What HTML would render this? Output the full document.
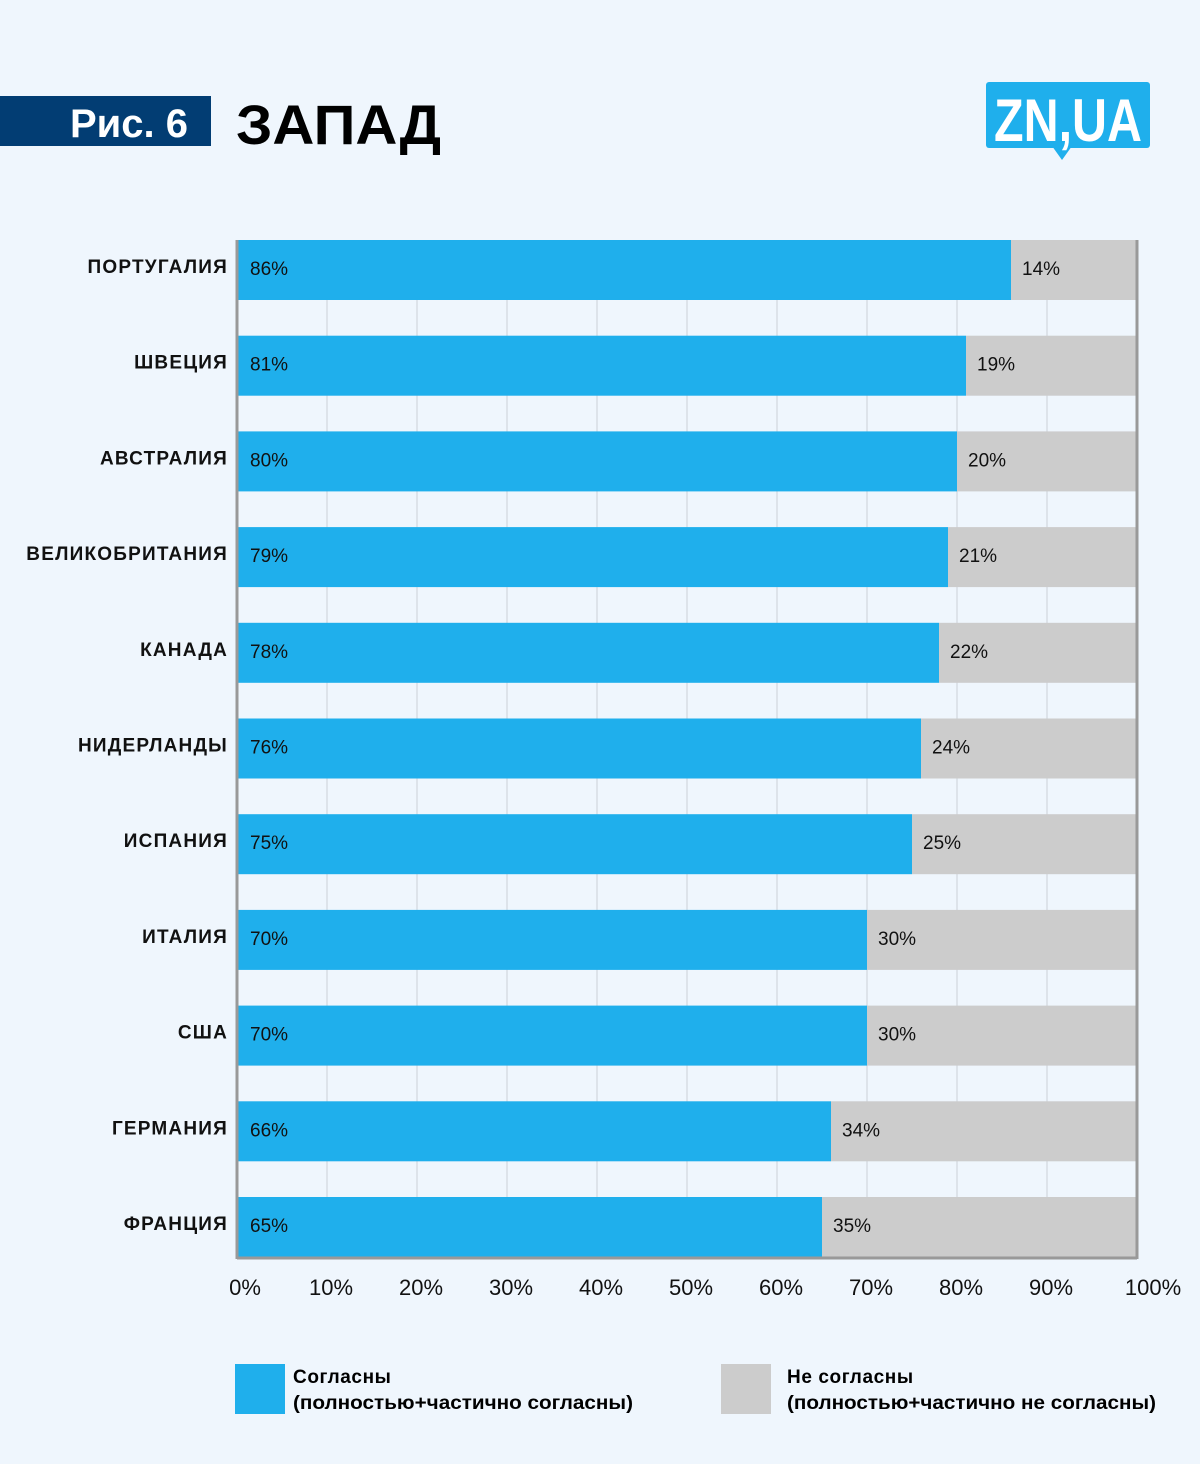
<!DOCTYPE html>
<html><head><meta charset="utf-8"><style>
body{margin:0;background:#eff6fd;}
svg{display:block;font-family:"Liberation Sans","DejaVu Sans",sans-serif;}
</style></head><body>
<svg id="chart" width="1200" height="1464" viewBox="0 0 1200 1464">
<rect x="0" y="0" width="1200" height="1464" fill="#eff6fd"/>
<rect x="0" y="96" width="211" height="50" fill="#023d73"/>
<text x="188" y="137" text-anchor="end" font-size="40" font-weight="bold" fill="#fff">Рис. 6</text>
<text x="236" y="144" font-size="56" font-weight="bold" fill="#000" textLength="205" lengthAdjust="spacingAndGlyphs">ЗАПАД</text>
<g>
<rect x="986" y="82" width="164" height="66" rx="3" fill="#1fafec"/>
<polygon points="1052,146 1072,146 1062,160" fill="#1fafec"/>
<text x="1068" y="141" text-anchor="middle" font-size="60" font-weight="bold" fill="#fff" textLength="148" lengthAdjust="spacingAndGlyphs">ZN,UA</text>
</g>
<g id="grid"></g>
<g id="bars"></g>
<g id="axis"></g>
<g>
<rect x="235" y="1364" width="50" height="50" fill="#1fafec"/>
<text x="293" y="1383" font-size="19" font-weight="bold" letter-spacing="0.6">Согласны</text>
<text x="293" y="1409" font-size="19" font-weight="bold" textLength="340" lengthAdjust="spacingAndGlyphs">(полностью+частично согласны)</text>
<rect x="721" y="1364" width="50" height="50" fill="#cccccc"/>
<text x="787" y="1383" font-size="19" font-weight="bold" letter-spacing="0.6">Не согласны</text>
<text x="787" y="1409" font-size="19" font-weight="bold" textLength="369" lengthAdjust="spacingAndGlyphs">(полностью+частично не согласны)</text>
</g>
</svg>
<script>
const categories = ["ПОРТУГАЛИЯ","ШВЕЦИЯ","АВСТРАЛИЯ","ВЕЛИКОБРИТАНИЯ","КАНАДА","НИДЕРЛАНДЫ","ИСПАНИЯ","ИТАЛИЯ","США","ГЕРМАНИЯ","ФРАНЦИЯ"];
const agree = [86,81,80,79,78,76,75,70,70,66,65];
const disagree = [14,19,20,21,22,24,25,30,30,34,35];
const agreeLabels = ["86%","81%","80%","79%","78%","76%","75%","70%","70%","66%","65%"];
const disagreeLabels = ["14%","19%","20%","21%","22%","24%","25%","30%","30%","34%","35%"];
const ticks = [0,10,20,30,40,50,60,70,80,90,100];
const tickLabels = ["0%","10%","20%","30%","40%","50%","60%","70%","80%","90%","100%"];

const NS="http://www.w3.org/2000/svg";
const x0=237,x1=1137,top0=240,bottom=1257,barH=60;
const step=(bottom-barH-top0)/(categories.length-1);
function xs(v){return x0+(x1-x0)*v/100;}
function yb(i){return top0+i*step;}
function mk(tag,attrs,parent){const e=document.createElementNS(NS,tag);for(const k in attrs)e.setAttribute(k,attrs[k]);parent.appendChild(e);return e;}
const grid=document.getElementById('grid'),bars=document.getElementById('bars'),axis=document.getElementById('axis');
ticks.forEach((t,i)=>{
  if(t>0&&t<100){
    const l=mk('line',{x1:xs(t),x2:xs(t),y1:top0,y2:bottom,stroke:'#dde3ea','stroke-width':2},grid);
    
    
  }
  const tx=mk('text',{x:xs(t)+(t==0?8:t==100?16:4),y:1295,'text-anchor':'middle','font-size':22,fill:'#111'},axis);
  tx.textContent=tickLabels[i];
  
  
});
categories.forEach((c,i)=>{
  const y=yb(i);
  const g=mk('g',{},bars);
  
  
  const b=mk('rect',{x:xs(0),y:y,width:xs(agree[i])-xs(0),height:barH,fill:'#1fafec'},g);
  
  
  const d=mk('rect',{x:xs(agree[i]),y:y,width:xs(agree[i]+disagree[i])-xs(agree[i]),height:barH,fill:'#cccccc'},g);
  
  
  const la=mk('text',{x:xs(0)+13,y:y+35,'font-size':19,fill:'#111'},g);
  la.textContent=agreeLabels[i];
  
  
  const ld=mk('text',{x:xs(agree[i])+11,y:y+35,'font-size':19,fill:'#111'},g);
  ld.textContent=disagreeLabels[i];
  
  
  const lc=mk('text',{x:228,y:y+33,'text-anchor':'end','font-size':19,'font-weight':'bold','letter-spacing':1.2,fill:'#111'},g);
  lc.textContent=c;
  
  
});
const ya=mk('line',{x1:x0,x2:x0,y1:top0,y2:bottom+2,stroke:'#999','stroke-width':3},axis);


const yr=mk('line',{x1:x1,x2:x1,y1:top0,y2:bottom+2,stroke:'#999','stroke-width':3},axis);


const xa=mk('line',{x1:x0,x2:x1,y1:bottom+1,y2:bottom+1,stroke:'#999','stroke-width':3},axis);


</script>
</body></html>
